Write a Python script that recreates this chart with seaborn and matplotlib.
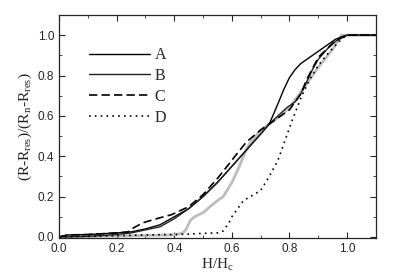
import matplotlib
matplotlib.use("Agg")
import matplotlib.pyplot as plt
import seaborn as sns
from matplotlib.ticker import MultipleLocator, FormatStrFormatter

# curves (H/Hc, normalised resistance)
h_a = [0.0, 0.03, 0.1, 0.2, 0.25, 0.3, 0.35, 0.4, 0.45, 0.5, 0.55, 0.6, 0.65, 0.7, 0.73,
       0.76, 0.78, 0.8, 0.82, 0.84, 0.87, 0.9, 0.93, 0.96, 1.0, 1.1]
r_a = [0.0, 0.01, 0.012, 0.02, 0.025, 0.04, 0.06, 0.1, 0.14, 0.2, 0.27, 0.35, 0.43, 0.51, 0.56,
       0.66, 0.73, 0.79, 0.83, 0.86, 0.89, 0.92, 0.95, 0.98, 1.0, 1.0]

h_b = [0.0, 0.1, 0.2, 0.25, 0.3, 0.35, 0.4, 0.45, 0.5, 0.55, 0.6, 0.65, 0.7, 0.73,
       0.76, 0.79, 0.82, 0.84, 0.86, 0.88, 0.9, 0.93, 0.96, 1.0, 1.1]
r_b = [0.0, 0.003, 0.012, 0.02, 0.035, 0.05, 0.09, 0.14, 0.2, 0.27, 0.35, 0.43, 0.51, 0.56,
       0.6, 0.64, 0.67, 0.71, 0.77, 0.83, 0.88, 0.93, 0.97, 1.0, 1.0]

h_c = [0.0, 0.03, 0.1, 0.2, 0.24, 0.25, 0.29, 0.35, 0.39, 0.45, 0.5, 0.55, 0.6, 0.65, 0.7,
       0.73, 0.76, 0.8, 0.84, 0.86, 0.9, 0.95, 0.98, 1.0, 1.1]
r_c = [0.0, 0.01, 0.012, 0.02, 0.025, 0.038, 0.07, 0.095, 0.11, 0.15, 0.21, 0.29, 0.38, 0.47, 0.53,
       0.56, 0.59, 0.63, 0.71, 0.78, 0.89, 0.96, 0.99, 1.0, 1.0]

h_d = [0.0, 0.1, 0.2, 0.3, 0.4, 0.45, 0.5, 0.55, 0.57, 0.59, 0.6, 0.62, 0.64, 0.67, 0.7,
       0.73, 0.76, 0.785, 0.81, 0.84, 0.87, 0.9, 0.94, 0.98, 1.0, 1.1]
r_d = [0.0, 0.003, 0.006, 0.01, 0.012, 0.014, 0.018, 0.02, 0.03, 0.07, 0.1, 0.14, 0.18, 0.205, 0.23,
       0.3, 0.38, 0.48, 0.58, 0.69, 0.78, 0.85, 0.92, 0.98, 1.0, 1.0]

h_g = [0.0, 0.2, 0.4, 0.43, 0.44, 0.455, 0.47, 0.5, 0.524, 0.55, 0.57, 0.6, 0.62, 0.646, 0.66,
       0.7, 0.75, 0.8, 0.85, 0.9, 0.95, 0.98, 1.0, 1.1]
r_g = [0.0, 0.005, 0.01, 0.02, 0.035, 0.08, 0.1, 0.12, 0.15, 0.18, 0.2, 0.27, 0.33, 0.42, 0.46,
       0.53, 0.58, 0.64, 0.74, 0.84, 0.93, 1.0, 1.0, 1.0]

labels = ["A", "B", "C", "D"]

sns.set_style("ticks")
plt.rcParams['font.family'] = ['Liberation Serif', 'DejaVu Serif']
plt.rcParams['mathtext.fontset'] = 'custom'
plt.rcParams['mathtext.rm'] = 'Liberation Serif'

fig = plt.figure(figsize=(3.99, 2.78), dpi=100)
ax = fig.add_axes([0.148, 0.144, 0.794, 0.802])

sns.lineplot(x=h_g, y=r_g, ax=ax, color="#bdbdbd", lw=2.0, sort=False, estimator=None)
sns.lineplot(x=h_a, y=r_a, ax=ax, color="black", lw=1.0, sort=False, estimator=None, label=labels[0])
sns.lineplot(x=h_b, y=r_b, ax=ax, color="#222222", lw=1.0, sort=False, estimator=None, label=labels[1])
sns.lineplot(x=h_c, y=r_c, ax=ax, color="black", lw=1.2, ls=(0, (5, 2.5)), sort=False, estimator=None, label=labels[2])
sns.lineplot(x=h_d, y=r_d, ax=ax, color="black", lw=1.2, ls=(0, (1, 2.5)), sort=False, estimator=None, label=labels[3])

ax.set_xlim(0, 1.1)
ax.set_ylim(-0.005, 1.1)
ax.xaxis.set_major_locator(MultipleLocator(0.2))
ax.xaxis.set_minor_locator(MultipleLocator(0.1))
ax.yaxis.set_major_locator(MultipleLocator(0.2))
ax.yaxis.set_minor_locator(MultipleLocator(0.1))
ax.xaxis.set_major_formatter(FormatStrFormatter("%.1f"))
ax.yaxis.set_major_formatter(FormatStrFormatter("%.1f"))
ax.tick_params(which="both", direction="in", top=True, right=True, labelsize=8.5,
               labelfontfamily="Liberation Sans")
ax.tick_params(which="major", length=4)
ax.tick_params(which="minor", length=2)
for s in ax.spines.values():
    s.set_linewidth(0.9)

ax.set_xlabel(r"H/H$_\mathregular{c}$", fontsize=11, labelpad=1)
ax.set_ylabel(r"(R-R$_\mathregular{res}$)/(R$_\mathregular{n}$-R$_\mathregular{res}$)", fontsize=11, labelpad=3)

ax.legend(loc="upper left", bbox_to_anchor=(0.05, 0.92), frameon=False, fontsize=11.5,
          handlelength=3.8, labelspacing=0.3, handletextpad=0.3)

fig.savefig("out.png", dpi=100)
